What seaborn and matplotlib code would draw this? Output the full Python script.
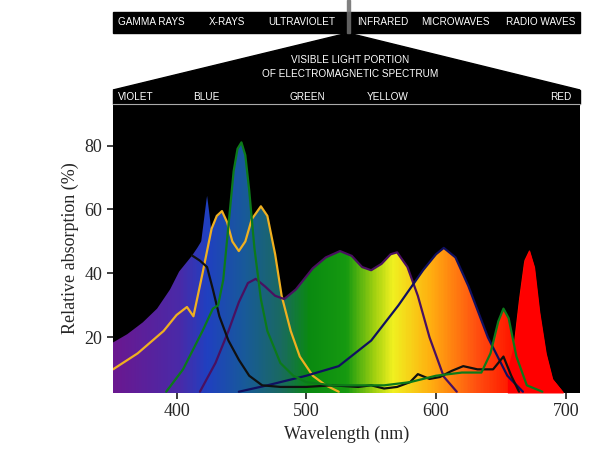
import numpy as np
import pandas as pd
import matplotlib
matplotlib.use("Agg")
import matplotlib.pyplot as plt
import seaborn as sns
from matplotlib.colors import LinearSegmentedColormap
from matplotlib.patches import Polygon, Rectangle

# absorption curves (wavelength nm, relative absorption %)
chl_a_wl = [392, 405, 420, 428, 432, 436, 440, 444, 447, 450, 453, 456, 460, 465, 470, 480, 490,
            500, 520, 540, 560, 580, 600, 620, 635, 642, 648, 652, 656, 662, 670, 682]
chl_a = [3, 10, 22, 29, 30, 38, 55, 72, 79, 81, 77, 66, 48, 32, 22, 12, 8,
         6, 5, 5, 5, 6, 8, 9, 9, 15, 25, 29, 26, 14, 5, 3]

chl_b_wl = [351, 370, 390, 400, 408, 413, 420, 427, 431, 435, 439, 443, 448, 453, 458, 465,
            470, 476, 481, 488, 495, 505, 515, 525]
chl_b = [10, 15, 22, 27, 29.5, 26.6, 40, 54, 58, 59.5, 56, 50, 47, 50, 57, 61,
         58, 46, 33, 22, 14, 8, 5, 3]

purple_wl = [418, 430, 440, 448, 455, 461, 468, 476, 483, 492, 505, 515, 526, 535, 543, 550,
             558, 565, 570, 578, 586, 595, 606, 616]
purple = [3, 12, 22, 31, 37, 38.3, 36, 33, 32, 35, 41.6, 45, 47, 45.5, 42, 41,
          43, 46, 46.6, 42, 33, 20, 7.7, 3]

navy_wl = [448, 470, 500, 525, 550, 571, 590, 600, 606, 615, 625, 640, 655, 667]
navy = [3, 5, 8, 11, 19, 30, 41, 46, 48, 45, 36, 20, 8, 3]

black_wl = [412, 418, 423.5, 428, 433, 440, 448, 456, 466, 480, 500, 520, 540, 550, 560, 570,
            580, 586, 595, 603, 612, 621, 632, 644, 652, 658, 664]
black = [45.6, 44, 42, 35, 26.6, 19, 13, 8, 5, 4.5, 4.5, 5, 4.5, 5, 4, 4.5,
         6, 8.5, 7, 7.6, 9.5, 11, 10, 10, 14, 8, 3]

blue_wl = [351, 362, 374, 385, 395, 402, 412, 416, 419, 421.5, 423.5, 425.5, 428, 432]
blue = [18.4, 21, 24.7, 29, 35, 40.6, 45.6, 48, 50, 58, 64.4, 58, 48, 30]

red_wl = [655, 660, 664, 668, 672, 676, 680, 685, 690, 698]
red = [10, 18, 32, 44, 47.4, 42, 28, 15, 7, 3]

band_labels = ["VIOLET", "BLUE", "GREEN", "YELLOW", "RED"]
band_px = [118, 193, 289, 367, 550]
em_labels = ["GAMMA RAYS", "X-RAYS", "ULTRAVIOLET", "INFRARED", "MICROWAVES", "RADIO WAVES"]
em_px = [118, 209, 268, 357, 421, 506]

y_bottom, y_top = 2.6, 93.0
x_left, x_right = 351, 711

sns.set_theme(style="white")
plt.rcParams["font.family"] = ["Liberation Serif", "DejaVu Serif"]

W, H = 597, 453
fig = plt.figure(figsize=(W / 100, H / 100), dpi=100)
ax = fig.add_axes([113 / W, 1 - 393 / H, (580 - 113) / W, (393 - 104) / H])
ax.set_facecolor("black")

# envelope of all curves on a common grid
grid = np.linspace(x_left, x_right, 800)
curves = [(chl_a_wl, chl_a), (chl_b_wl, chl_b), (purple_wl, purple), (navy_wl, navy),
          (black_wl, black), (blue_wl, blue), (red_wl, red)]
env = np.full_like(grid, y_bottom)
for wl, v in curves:
    env = np.maximum(env, np.interp(grid, wl, v, left=y_bottom, right=y_bottom))

spec = LinearSegmentedColormap.from_list("spec", [
    (0.0, "#6a1890"), (0.14, "#4a2aa8"), (0.2, "#2040c0"), (0.28, "#185a9a"),
    (0.36, "#1a6a60"), (0.42, "#0a8a10"), (0.5, "#169a10"), (0.56, "#a0d010"),
    (0.6, "#f0f020"), (0.68, "#ffb010"), (0.78, "#ff5010"), (0.85, "#ff1a00"),
    (1.0, "#ff0000")])
im = ax.imshow(np.linspace(0, 1, 400)[None, :], cmap=spec, aspect="auto",
               extent=[x_left, x_right, y_bottom, y_top], zorder=1)
clip = Polygon(np.column_stack([np.r_[grid, grid[-1], grid[0]],
                                np.r_[env, y_bottom, y_bottom]]),
               closed=True, transform=ax.transData, facecolor="none", edgecolor="none")
ax.add_patch(clip)
im.set_clip_path(clip)
ax.fill_between(red_wl, y_bottom, red, color="#ff0000", zorder=2, lw=0)

line_df = pd.concat([
    pd.DataFrame({"wl": chl_b_wl, "val": chl_b, "curve": "chl_b"}),
    pd.DataFrame({"wl": purple_wl, "val": purple, "curve": "purple"}),
    pd.DataFrame({"wl": navy_wl, "val": navy, "curve": "navy"}),
    pd.DataFrame({"wl": black_wl, "val": black, "curve": "black"}),
    pd.DataFrame({"wl": chl_a_wl, "val": chl_a, "curve": "chl_a"}),
])
palette = {"chl_b": "#f0b020", "purple": "#4a1060", "navy": "#101060",
           "black": "#101010", "chl_a": "#0c7a1a"}
sns.lineplot(data=line_df, x="wl", y="val", hue="curve", palette=palette,
             sort=False, estimator=None, lw=1.6, legend=False, ax=ax, zorder=3)

ax.set_xlim(x_left, x_right)
ax.set_ylim(y_bottom, y_top)
ax.set_xticks([400, 500, 600, 700])
ax.set_yticks([20, 40, 60, 80])
ax.tick_params(labelsize=13, length=4, direction="out", left=True, bottom=True)
ax.set_xlabel("Wavelength (nm)", fontsize=13)
ax.set_ylabel("Relative absorption (%)", fontsize=13)
for s in ax.spines.values():
    s.set_visible(False)


# header graphics in figure pixels (top-left origin)
def fx(px):
    return px / W


def fy(py):
    return 1 - py / H


sans = ["Liberation Sans", "DejaVu Sans"]
fig.patches.append(Rectangle((fx(113), fy(104)), fx(467), 14 / H, transform=fig.transFigure,
                             color="black", zorder=0))
fig.patches.append(Rectangle((fx(113), fy(33)), fx(467), 21 / H, transform=fig.transFigure,
                             color="black", zorder=0))
fig.patches.append(Polygon([(fx(348), fy(33)), (fx(113), fy(90)), (fx(580), fy(90))],
                           closed=True, transform=fig.transFigure, color="black", zorder=0))
fig.patches.append(Rectangle((fx(347), fy(12)), 2.5 / W, 12 / H, transform=fig.transFigure,
                             color="#808080", zorder=1))
fig.patches.append(Rectangle((fx(347), fy(33)), 2.5 / W, 21 / H, transform=fig.transFigure,
                             color="#606060", zorder=1))
fig.add_artist(plt.Line2D([fx(113), fx(580)], [fy(104), fy(104)], color="#aaaaaa", lw=0.8))
for lab, px in zip(band_labels, band_px):
    fig.text(fx(px), fy(97.5), lab, color="white", fontsize=7.2,
             family=sans, va="center")
for lab, px in zip(em_labels, em_px):
    fig.text(fx(px), fy(22), lab, color="white", fontsize=7.2,
             family=sans, va="center")
fig.text(fx(350), fy(60), "VISIBLE LIGHT PORTION", color="white", fontsize=7.2,
         family=sans, ha="center", va="center")
fig.text(fx(350), fy(74), "OF ELECTROMAGNETIC SPECTRUM", color="white", fontsize=7.2,
         family=sans, ha="center", va="center")

fig.savefig("out.png", dpi=100)
